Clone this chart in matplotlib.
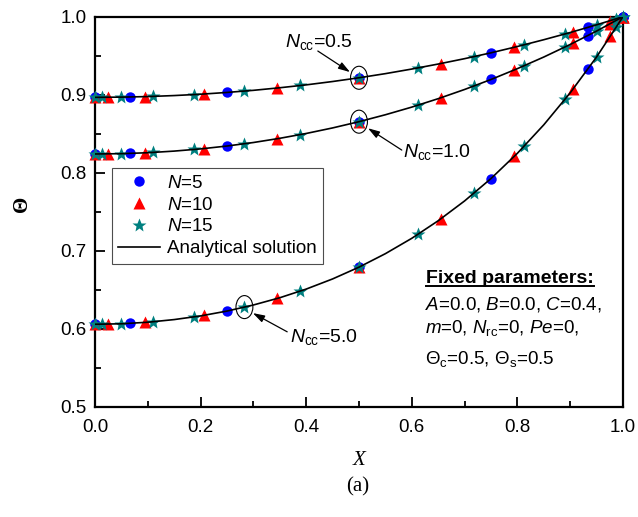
import numpy as np
import matplotlib
matplotlib.use('Agg')
import matplotlib.pyplot as plt
from matplotlib.patches import Ellipse
from matplotlib.lines import Line2D
from matplotlib.ticker import MultipleLocator

plt.rcParams['font.family'] = 'Liberation Sans'
plt.rcParams['mathtext.fontset'] = 'custom'
plt.rcParams['mathtext.rm'] = 'Liberation Sans'
plt.rcParams['mathtext.it'] = 'Liberation Sans:italic'
plt.rcParams['mathtext.bf'] = 'Liberation Sans:bold'

# collocation nodes for the three grids
x_n5 = [0.0, 0.067, 0.25, 0.5, 0.75, 0.933, 1.0]
x_n10 = [0.0, 0.024, 0.095, 0.206, 0.345, 0.5, 0.655, 0.794, 0.905, 0.976, 1.0]
x_n15 = [0.0, 0.0125, 0.0495, 0.109, 0.188, 0.283, 0.389, 0.5, 0.611,
         0.717, 0.812, 0.891, 0.9505, 0.9875, 1.0]

# numerical temperature, N = 5
n5_ncc05 = [0.8966, 0.8971, 0.9029, 0.9217, 0.9537, 0.9862, 1.0]
n5_ncc1 = [0.8240, 0.8247, 0.8342, 0.8654, 0.9195, 0.9758, 1.0]
n5_ncc5 = [0.6057, 0.6069, 0.6226, 0.6789, 0.7925, 0.9325, 1.0]

# N = 10
n10_ncc05 = [0.8966, 0.8967, 0.8975, 0.9009, 0.9086, 0.9217, 0.9400, 0.9608, 0.9807, 0.9950, 1.0]
n10_ncc1 = [0.8240, 0.8241, 0.8255, 0.8309, 0.8436, 0.8654, 0.8961, 0.9317, 0.9661, 0.9912, 1.0]
n10_ncc5 = [0.6057, 0.6059, 0.6081, 0.6171, 0.6388, 0.6789, 0.7409, 0.8210, 0.9070, 0.9752, 1.0]

# N = 15
n15_ncc05 = [0.8966, 0.8966, 0.8969, 0.8978, 0.9002, 0.9047, 0.9118, 0.9217,
             0.9343, 0.9488, 0.9639, 0.9780, 0.9897, 0.9974, 1.0]
n15_ncc1 = [0.8240, 0.8240, 0.8244, 0.8260, 0.8298, 0.8372, 0.8489, 0.8654,
            0.8865, 0.9111, 0.9370, 0.9615, 0.9818, 0.9954, 1.0]
n15_ncc5 = [0.6057, 0.6058, 0.6063, 0.6089, 0.6153, 0.6277, 0.6484, 0.6789,
            0.7209, 0.7736, 0.8337, 0.8950, 0.9489, 0.9871, 1.0]

# analytical solution
x_exact = np.linspace(0.0, 1.0, 21)
exact_ncc05 = [0.8966, 0.8969, 0.8976, 0.8989, 0.9006, 0.9029, 0.9056, 0.9089, 0.9126, 0.9169,
               0.9217, 0.9270, 0.9329, 0.9393, 0.9462, 0.9537, 0.9618, 0.9705, 0.9797, 0.9896, 1.0]
exact_ncc1 = [0.8240, 0.8244, 0.8256, 0.8277, 0.8305, 0.8342, 0.8387, 0.8441, 0.8503, 0.8574,
              0.8654, 0.8743, 0.8841, 0.8949, 0.9067, 0.9195, 0.9334, 0.9483, 0.9644, 0.9816, 1.0]
exact_ncc5 = [0.6057, 0.6063, 0.6083, 0.6117, 0.6164, 0.6226, 0.6304, 0.6397, 0.6508, 0.6638,
              0.6789, 0.6962, 0.7159, 0.7384, 0.7638, 0.7925, 0.8249, 0.8614, 0.9024, 0.9484, 1.0]

fig = plt.figure(figsize=(6.38, 5.17), dpi=100)
ax = fig.add_axes([95/638, 1-406.7/517, 528/638, 390/517])

sets = [(n5_ncc05, n10_ncc05, n15_ncc05, exact_ncc05),
        (n5_ncc1, n10_ncc1, n15_ncc1, exact_ncc1),
        (n5_ncc5, n10_ncc5, n15_ncc5, exact_ncc5)]

for i, (y5, y10, y15, ye) in enumerate(sets):
    ax.plot(x_n5, y5, 'o', color='#0000ff', ms=7.5, mec='none', clip_on=False, zorder=3,
            label=r'$N$=5' if i == 0 else None)
    ax.plot(x_n10, y10, '^', color='#ff0000', ms=8.5, mec='none', clip_on=False, zorder=3,
            label=r'$N$=10' if i == 0 else None)
    ax.plot(x_n15, y15, '*', color='#008080', ms=10.5, mec='none', clip_on=False, zorder=3,
            label=r'$N$=15' if i == 0 else None)
for i, (y5, y10, y15, ye) in enumerate(sets):
    ax.plot(x_exact, ye, '-', color='k', lw=1.2, zorder=4,
            label='Analytical solution' if i == 0 else None)

# circled points with labels
for xc, yc in [(0.5, exact_ncc05[10]), (0.5, exact_ncc1[10]), (x_n15[5], n15_ncc5[5])]:
    ax.add_patch(Ellipse((xc, yc), 0.032, 0.0295, fill=False, ec='k', lw=0.8, zorder=5))

arrow = dict(arrowstyle='-|>,head_length=0.7,head_width=0.22', color='k', lw=0.9,
             shrinkA=0, shrinkB=0)
ax.annotate('', xy=(0.483, 0.929), xytext=(0.422, 0.956), arrowprops=arrow)
ax.annotate('', xy=(0.517, 0.857), xytext=(0.581, 0.829), arrowprops=arrow)
ax.annotate('', xy=(0.299, 0.620), xytext=(0.364, 0.596), arrowprops=arrow)
ax.text(0.360, 0.961, r'$N_{\rm cc}$=0.5', fontsize=14, va='baseline')
ax.text(0.583, 0.820, r'$N_{\rm cc}$=1.0', fontsize=14, va='baseline')
ax.text(0.369, 0.583, r'$N_{\rm cc}$=5.0', fontsize=14, va='baseline')

# fixed parameter block
head = ax.text(0.627, 0.659, 'Fixed parameters:', fontsize=14, fontweight='bold', va='baseline')
ax.text(0.625, 0.624, r'$A$=0.0, $B$=0.0, $C$=0.4,', fontsize=13.5, va='baseline')
ax.text(0.625, 0.594, r'$m$=0, $N_{\rm rc}$=0, $Pe$=0,', fontsize=13.5, va='baseline')
ax.text(0.625, 0.555, r'$\Theta_{\rm c}$=0.5, $\Theta_{\rm s}$=0.5', fontsize=13.5, va='baseline')

ax.set_xlim(0, 1.0)
ax.set_ylim(0.5, 1.0)
ax.xaxis.set_major_locator(MultipleLocator(0.2))
ax.xaxis.set_minor_locator(MultipleLocator(0.1))
ax.yaxis.set_major_locator(MultipleLocator(0.1))
ax.yaxis.set_minor_locator(MultipleLocator(0.05))
ax.xaxis.set_major_formatter(matplotlib.ticker.FormatStrFormatter('%.1f'))
ax.yaxis.set_major_formatter(matplotlib.ticker.FormatStrFormatter('%.1f'))
ax.tick_params(which='both', direction='in', width=1.3, labelsize=13.5, top=False, right=False)
ax.tick_params(which='major', length=7)
ax.tick_params(which='minor', length=4)
ax.tick_params(axis='x', pad=9)
ax.tick_params(axis='y', pad=6)
for s in ax.spines.values():
    s.set_linewidth(1.6)

ax.set_xlabel('X', family='Liberation Serif', style='italic', fontsize=15)
ax.xaxis.label.set_va('center')
ax.xaxis.set_label_coords(0.5, -0.139)
ax.set_ylabel('Θ', family='Liberation Serif', fontweight='bold', fontsize=15)
ax.yaxis.label.set_va('center')
ax.yaxis.set_label_coords(-0.138, 0.52)
fig.text(358/638, 1-487/517, '(a)', ha='center', va='center', family='Liberation Serif', fontsize=15)

leg = ax.legend(loc='upper left', bbox_to_anchor=(0.0316, 0.612), borderaxespad=0, fontsize=13.5,
                fancybox=False, edgecolor='0.3', framealpha=1, handlelength=2.25,
                handletextpad=0.35, labelspacing=0.25, borderpad=0.35, numpoints=1)
leg.get_frame().set_linewidth(0.8)

# underline the heading
fig.canvas.draw()
bb = head.get_window_extent().transformed(fig.transFigure.inverted())
fig.add_artist(Line2D([bb.x0, bb.x1], [bb.y0 + 0.001, bb.y0 + 0.001], color='k', lw=1.4))

fig.savefig('out.png', dpi=100)
